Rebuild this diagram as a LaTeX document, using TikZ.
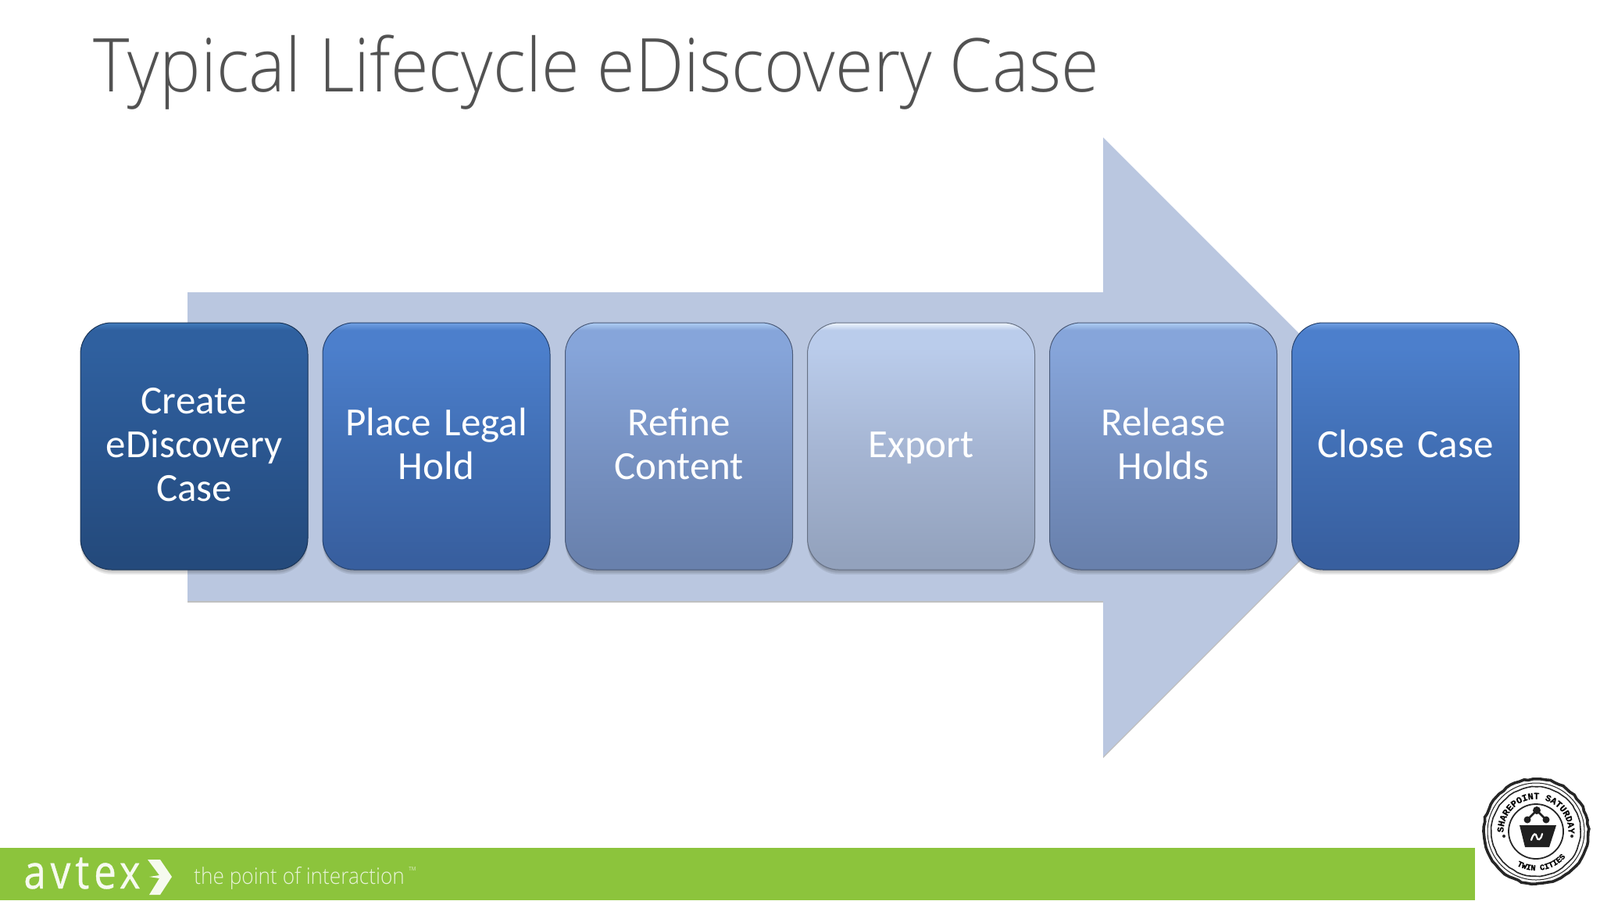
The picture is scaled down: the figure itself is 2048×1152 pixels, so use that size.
\documentclass[tikz,border=0pt]{standalone}
\usepackage{fontspec}
\setmainfont[WordSpace=0.6]{Carlito}
\newfontfamily\titlefont[FakeStretch=0.93]{Open Sans Light}
\newfontfamily\taglinefont[FakeStretch=0.91]{Open Sans Light}
\newfontfamily\logofont[FakeStretch=0.88]{Open Sans}
\newfontfamily\avtexfont[FakeStretch=0.85,FakeBold=0.6]{Open Sans}
\newfontfamily\stampfont[FakeBold=0.5]{Liberation Mono Bold}
\usetikzlibrary{shadows,decorations.text,decorations.pathmorphing}
\definecolor{c1B}{HTML}{244A7C}\definecolor{c1M}{HTML}{2A5690}\definecolor{c1T}{HTML}{2F609F}\definecolor{c1H}{HTML}{4078B8}
\definecolor{c2B}{HTML}{385F9F}\definecolor{c2M}{HTML}{416FB5}\definecolor{c2T}{HTML}{4C7FCC}\definecolor{c2H}{HTML}{6C9CE0}
\definecolor{c3B}{HTML}{6981AD}\definecolor{c3M}{HTML}{7893C4}\definecolor{c3T}{HTML}{86A5DA}\definecolor{c3H}{HTML}{A9C8F0}
\definecolor{c4B}{HTML}{93A2BD}\definecolor{c4M}{HTML}{A6B6D4}\definecolor{c4T}{HTML}{BACCEB}\definecolor{c4H}{HTML}{E8F0FC}
\pgfdeclareverticalshading{sA}{100bp}{color(0bp)=(c1B);color(27bp)=(c1B);color(50bp)=(c1M);color(70bp)=(c1T);color(73.5bp)=(c1T);color(74.8bp)=(c1H);color(100bp)=(c1H)}
\pgfdeclareverticalshading{sB}{100bp}{color(0bp)=(c2B);color(27bp)=(c2B);color(50bp)=(c2M);color(70bp)=(c2T);color(73.5bp)=(c2T);color(74.8bp)=(c2H);color(100bp)=(c2H)}
\pgfdeclareverticalshading{sC}{100bp}{color(0bp)=(c3B);color(27bp)=(c3B);color(50bp)=(c3M);color(70bp)=(c3T);color(73.5bp)=(c3T);color(74.8bp)=(c3H);color(100bp)=(c3H)}
\pgfdeclareverticalshading{sD}{100bp}{color(0bp)=(c4B);color(27bp)=(c4B);color(50bp)=(c4M);color(70bp)=(c4T);color(73.5bp)=(c4T);color(74.8bp)=(c4H);color(100bp)=(c4H)}
\definecolor{arrowblue}{HTML}{BAC7E0}
\definecolor{barGreen}{HTML}{8CC43C}
\tikzset{
 softlayer/.style={general shadow={fill=black,opacity=.09,shadow xshift=0pt,shadow yshift=#1,shadow scale=1}},
 stepbox/.style={rectangle,rounded corners=20pt,minimum width=145.5pt,minimum height=158pt,
   anchor=center,align=center,text=white,font=\fontsize{25.5}{28}\selectfont,inner sep=0pt,text width=140pt,
   draw=#1!70!black,line width=.5pt,
   execute at begin node={\rule{0pt}{19pt}},execute at end node={\rule[-5pt]{0pt}{5pt}},
   softlayer=-3pt,softlayer=-2pt,softlayer=-1pt},
 stamp/.style={draw=black!85,fill=none},
}
\begin{document}
\begin{tikzpicture}[x=.5pt,y=-.5pt]
\useasboundingbox (0,0) rectangle (2048,1152);
\fill[white] (0,0) rectangle (2048,1152);
\node[anchor=base west,inner sep=0pt,text=black!68,font=\titlefont\fontsize{47.5}{48}\selectfont] (title) at (119,117) {Typical Lifecycle eDiscovery Case};
% big arrow
\fill[black!25] (240,376) -- (1412,376) -- (1412,178) -- (1808,574) -- (1412,970) -- (1412,771) -- (240,771) -- cycle;
\fill[arrowblue] (240,374) -- (1412,374) -- (1412,176) -- (1808,572) -- (1412,968) -- (1412,769) -- (240,769) -- cycle;
% steps
\node[stepbox=c1B,shading=sA] (s1) at (248.5,571) {Create\\eDiscovery\\Case};
\node[stepbox=c2B,shading=sB] (s2) at (558.5,571) {Place Legal\\Hold};
\node[stepbox=c3B,shading=sC] (s3) at (869,571) {Refine\\Content};
\node[stepbox=c4B,shading=sD] (s4) at (1179,571) {Export};
\node[stepbox=c3B,shading=sC] (s5) at (1489,571) {Release\\Holds};
\node[stepbox=c2B,shading=sB] (s6) at (1799,571) {Close Case};
% footer
\fill[barGreen] (0,1085) rectangle (1888,1152);
\node[anchor=base west,inner sep=0pt,text=white!92!barGreen,font=\avtexfont\fontsize{30}{30}\selectfont] (avtex) at (30,1137) {a\kern3pt v\kern3pt t\kern3pt e\kern2pt x};
\fill[white!92!barGreen] (189,1100) -- (205,1100) -- (220,1122) -- (205,1145) -- (191,1145) -- (204,1124) -- (191,1122) -- (204,1120) -- cycle;
\node[anchor=base west,inner sep=0pt,text=white!80!barGreen,font=\taglinefont\fontsize{14.4}{14.5}\selectfont] (tag) at (248,1131) {the point of interaction};
\node[anchor=base west,inner sep=0pt,text=white!70!barGreen,font=\logofont\fontsize{3.5}{3.5}\selectfont] (tm) at (523,1114) {TM};
% stamp
\begin{scope}[shift={(1966,1064)}]
\draw[stamp,line width=1.8pt,decorate,decoration={random steps,segment length=3pt,amplitude=.45pt}] (0,0) circle (67);
\draw[stamp,line width=.5pt] (0,0) circle (62);
\draw[stamp,line width=.8pt,decorate,decoration={random steps,segment length=3pt,amplitude=.25pt}] (0,0) circle (57);
\draw[stamp,line width=.9pt] (0,0) circle (35);
\path[decorate,decoration={text along path,text align=center,text={|\stampfont\fontsize{5.9}{5.9}\selectfont|SHAREPOINT SATURDAY}}] (175:41.5) arc[start angle=175,end angle=367,radius=41.5];
\path[decorate,decoration={text along path,text align=center,text={|\stampfont\fontsize{5.2}{5.2}\selectfont|TWIN CITIES}}] (125:50) arc[start angle=125,end angle=35,radius=50];
\fill[black!85] (-41,6) circle (2) (46,6) circle (2);
\fill[black!88] (-21,-8) -- (26,-8) -- (17,20) -- (-14,20) -- cycle;
\draw[black!88,line width=1.3pt] (-11,-15) -- (1,-27) -- (13,-15);
\fill[black!88] (1,-27) circle (5) (-11,-15) circle (4.5) (13,-15) circle (4.5);
\draw[white,line width=1.1pt,line cap=round] (-6,11) .. controls (-3,1) and (0,2) .. (1,7) .. controls (2,12) and (6,12) .. (8,3);
\end{scope}
\end{tikzpicture}
\end{document}
